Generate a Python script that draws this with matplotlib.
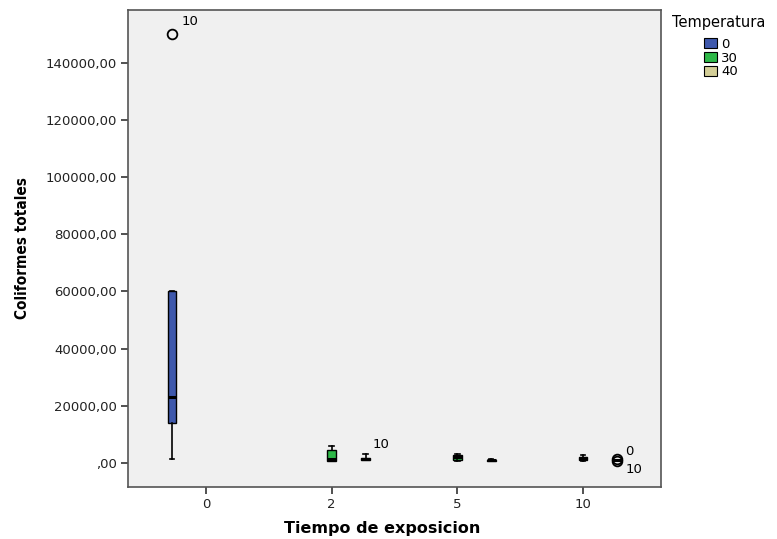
import matplotlib
matplotlib.use("Agg")
import matplotlib.pyplot as plt
from matplotlib.patches import Patch
from matplotlib.ticker import FuncFormatter

# Exposure time groups and temperature levels
tiempos = ["0", "2", "5", "10"]
temperaturas = ["0", "30", "40"]
colores = ["#3E58AC", "#2EB848", "#D3CE97"]

# Box statistics per (time, temperature): whisker low, Q1, median, Q3, whisker high
# (groups with no observations are left out)
whislo = {("0", "0"): 1300, ("2", "30"): 800, ("2", "40"): 1000,
          ("5", "30"): 800, ("5", "40"): 700, ("10", "30"): 700, ("10", "40"): 900}
q1 = {("0", "0"): 14100, ("2", "30"): 800, ("2", "40"): 1100,
      ("5", "30"): 1200, ("5", "40"): 800, ("10", "30"): 1200, ("10", "40"): 950}
mediana = {("0", "0"): 23200, ("2", "30"): 1500, ("2", "40"): 1400,
           ("5", "30"): 2000, ("5", "40"): 1000, ("10", "30"): 1600, ("10", "40"): 1000}
q3 = {("0", "0"): 60000, ("2", "30"): 4500, ("2", "40"): 1700,
      ("5", "30"): 2700, ("5", "40"): 1200, ("10", "30"): 2000, ("10", "40"): 1050}
whishi = {("0", "0"): 60000, ("2", "30"): 6000, ("2", "40"): 3200,
          ("5", "30"): 3100, ("5", "40"): 1300, ("10", "30"): 2800, ("10", "40"): 1100}

# Outlying cases: (time, temperature) -> list of (value, case label)
atipicos = {("0", "0"): [(150000, "10")],
            ("10", "40"): [(1300, "0"), (800, "10")]}
# Case labels shown at the whisker end
etiquetas_bigote = {("2", "40"): "10"}

desplaz = [-0.27, 0.0, 0.27]
ancho = 0.07

fig = plt.figure(figsize=(7.77, 5.39), dpi=100)
fig.patch.set_facecolor("white")
ax = fig.add_axes([128 / 777, 1 - 487 / 539, (661 - 128) / 777, (487 - 10) / 539])
ax.set_facecolor("#F0F0F0")

fuente = ["DejaVu Sans"]

for i, t in enumerate(tiempos):
    for j, temp in enumerate(temperaturas):
        k = (t, temp)
        if k not in q1:
            continue
        pos = i + desplaz[j]
        stats = [dict(whislo=whislo[k], q1=q1[k], med=mediana[k], q3=q3[k],
                      whishi=whishi[k], fliers=[])]
        ax.bxp(stats, positions=[pos], widths=ancho, capwidths=ancho * 0.5,
               patch_artist=True, showfliers=False, manage_ticks=False,
               boxprops=dict(facecolor=colores[j], edgecolor="black", linewidth=1.0),
               medianprops=dict(color="black", linewidth=2.2),
               whiskerprops=dict(color="black", linewidth=1.2),
               capprops=dict(color="black", linewidth=1.2))
        pts = atipicos.get(k, [])
        for val, lab in pts:
            ax.plot([pos], [val], marker="o", ms=7, mfc="none", mec="black",
                    mew=1.3, ls="none", zorder=5)
        # case labels next to the outliers
        if len(pts) == 1:
            val, lab = pts[0]
            ax.annotate(lab, (pos, val), xytext=(7, 4), textcoords="offset points",
                        fontsize=9.5, family=fuente, ha="left", va="bottom")
        elif len(pts) == 2:
            (v1, l1), (v2, l2) = pts
            ax.annotate(l1, (pos, v1), xytext=(6, 1), textcoords="offset points",
                        fontsize=9.5, family=fuente, ha="left", va="bottom")
            ax.annotate(l2, (pos, v2), xytext=(6, -2), textcoords="offset points",
                        fontsize=9.5, family=fuente, ha="left", va="top")
        if k in etiquetas_bigote:
            ax.annotate(etiquetas_bigote[k], (pos, whishi[k]), xytext=(5, 2),
                        textcoords="offset points", fontsize=9.5, family=fuente,
                        ha="left", va="bottom")

ax.set_xlim(-0.62, 3.62)
ax.set_ylim(-8390, 158390)
ax.set_xticks(range(len(tiempos)))
ax.set_xticklabels(tiempos)
ax.set_yticks([0, 20000, 40000, 60000, 80000, 100000, 120000, 140000])


def fmt(v, _):
    s = f"{v:.2f}".replace(".", ",")
    return s[1:] if s.startswith("0,") else s


ax.yaxis.set_major_formatter(FuncFormatter(fmt))
ax.tick_params(axis="both", direction="out", length=5, width=1.2, color="#333333",
               labelsize=9.5, pad=3)
for lab in ax.get_xticklabels() + ax.get_yticklabels():
    lab.set_family(fuente)
    lab.set_color("#222222")
for s in ax.spines.values():
    s.set_color("#555555")
    s.set_linewidth(1.2)

ax.set_xlabel("Tiempo de exposicion", fontsize=11.5, fontweight="bold",
              family=fuente)
ax.xaxis.set_label_coords((382 - 128) / 533, -0.072)
ax.set_ylabel("Coliformes totales", fontsize=11, fontweight="bold",
              family=fuente, fontstretch="condensed", labelpad=11)

fig.text(672 / 777, 1 - 22 / 539, "Temperatura", fontsize=10.5, family=fuente,
         ha="left", va="center")
handles = [Patch(facecolor=c, edgecolor="black", linewidth=0.8) for c in colores]
fig.legend(handles, temperaturas, loc="upper left",
           bbox_to_anchor=(704 / 777, 1 - 38 / 539), frameon=False,
           handlelength=1.0, handleheight=0.8, handletextpad=0.3,
           labelspacing=0.05, borderpad=0, borderaxespad=0,
           prop=dict(family=fuente, size=9.5))

fig.savefig("out.png", dpi=100, facecolor="white")
